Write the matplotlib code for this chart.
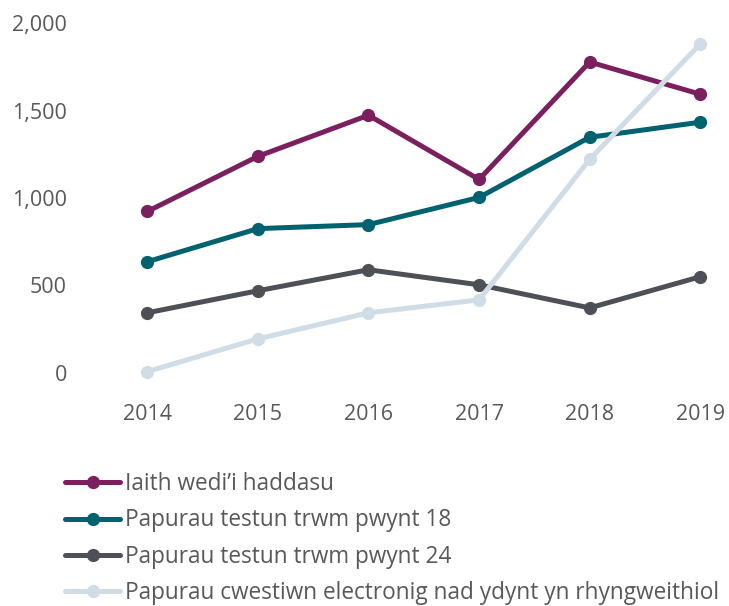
import matplotlib
matplotlib.use('Agg')
import matplotlib.pyplot as plt

years = ['2014', '2015', '2016', '2017', '2018', '2019']
iaith = [923, 1238, 1473, 1106, 1777, 1593]
pwynt18 = [636, 825, 848, 1003, 1347, 1433]
pwynt24 = [344, 470, 590, 504, 372, 550]
electronig = [8, 195, 344, 418, 1221, 1880]

labels = ['Iaith wedi\u2019i haddasu', 'Papurau testun trwm pwynt 18',
          'Papurau testun trwm pwynt 24',
          'Papurau cwestiwn electronig nad ydynt yn rhyngweithiol']
colors = ['#7b1f5e', '#00616f', '#4d5157', '#d0dce6']
GREY = '#595959'

plt.rcParams.update({'font.family': ['Open Sans', 'DejaVu Sans'], 'font.size': 15})

W, H = 729, 606
fig = plt.figure(figsize=(W / 100, H / 100), dpi=100)
ax = fig.add_axes([92 / W, 1 - 373 / H, (W - 92) / W, 350 / H])

xs = range(len(years))
series = [iaith, pwynt18, pwynt24, electronig]
for vals, lab, c in zip(series, labels, colors):
    ax.plot(xs, vals, '-o', color=c, lw=3.6, ms=8.5, label=lab, clip_on=False,
            solid_capstyle='round')

ax.set_xlim(-0.5, 5.26)
ax.set_ylim(0, 2000)
ax.set_yticks([0, 500, 1000, 1500, 2000])
ax.set_yticklabels(['0', '500', '1,000', '1,500', '2,000'])
ax.set_xticks(list(xs))
ax.set_xticklabels(years)
ax.tick_params(length=0, colors=GREY, labelsize=15.5)
ax.tick_params(axis='y', pad=18)
ax.tick_params(axis='x', pad=22)
for s in ax.spines.values():
    s.set_visible(False)

h, l = ax.get_legend_handles_labels()
fig.legend(h, l, loc='upper left', bbox_to_anchor=(65 / W, 1 - 472 / H), frameon=False,
           fontsize=16.3, labelcolor=GREY, handlelength=2.45, handletextpad=0.2,
           labelspacing=0.55, borderaxespad=0, borderpad=0)

fig.savefig('out.png', dpi=100)
